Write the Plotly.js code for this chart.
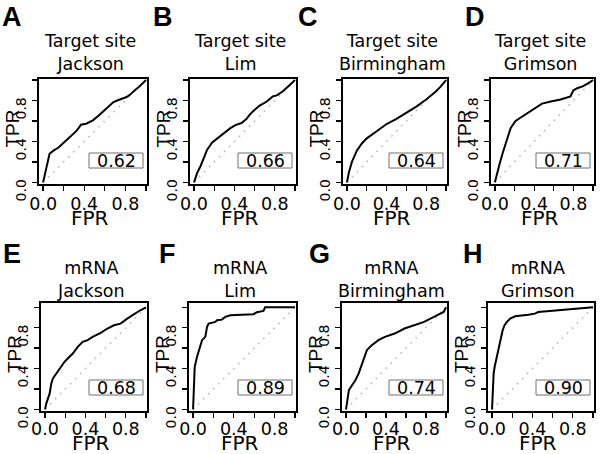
<!DOCTYPE html>
<html>
<head>
<meta charset="utf-8">
<script src="https://cdn.plot.ly/plotly-3.0.1.min.js"></script>
<style>html,body{margin:0;padding:0;background:#fff;}#chart{width:600px;height:454px;}</style>
</head>
<body>
<div id="chart"></div>
<script>
// ---------- data ----------
const panelLetters = ['A','B','C','D','E','F','G','H'];
const features = ['Target site','Target site','Target site','Target site','mRNA','mRNA','mRNA','mRNA'];
const datasets = ['Jackson','Lim','Birmingham','Grimson','Jackson','Lim','Birmingham','Grimson'];
const aucLabels = ['0.62','0.66','0.64','0.71','0.68','0.89','0.74','0.90'];
const tickValues = [0, 0.2, 0.4, 0.6, 0.8, 1.0];
const tickLabels = ['0.0', '', '0.4', '', '0.8', ''];
const chanceLine = [0, 1];

const fprA = [0,0.02,0.04,0.0625,0.1,0.15,0.197,0.25,0.319,0.345,0.368,0.418,0.45,0.484,0.549,0.58,0.615,0.681,0.72,0.747,0.812,0.85,0.878,0.944,1];
const tprA = [0,0.1,0.19,0.28,0.31,0.34,0.384,0.43,0.498,0.53,0.563,0.573,0.59,0.606,0.661,0.69,0.726,0.782,0.8,0.808,0.834,0.86,0.889,0.945,1];
const fprB = [0,0.03,0.065,0.1,0.13,0.18,0.23,0.3,0.36,0.41,0.47,0.52,0.55,0.59,0.65,0.72,0.78,0.82,0.88,0.94,1];
const tprB = [0,0.09,0.16,0.24,0.32,0.39,0.43,0.48,0.53,0.56,0.58,0.62,0.66,0.7,0.75,0.79,0.84,0.85,0.89,0.945,1];
const fprC = [0,0.02,0.05,0.1,0.15,0.2,0.3,0.4,0.5,0.6,0.7,0.8,0.9,0.95,1];
const tprC = [0,0.1,0.2,0.31,0.38,0.43,0.5,0.57,0.62,0.68,0.74,0.81,0.89,0.94,1];
const fprD = [0,0.02,0.05,0.08,0.11,0.16,0.21,0.28,0.34,0.41,0.48,0.57,0.67,0.77,0.8,0.84,0.9,0.97,1];
const tprD = [0,0.09,0.19,0.29,0.38,0.53,0.6,0.645,0.68,0.72,0.77,0.79,0.81,0.84,0.9,0.92,0.94,0.98,1];
const fprE = [0,0.013,0.046,0.062,0.078,0.111,0.144,0.193,0.225,0.275,0.324,0.373,0.422,0.471,0.552,0.618,0.683,0.748,0.814,0.879,0.944,1];
const tprE = [0,0.059,0.156,0.254,0.303,0.352,0.401,0.466,0.498,0.547,0.612,0.661,0.678,0.71,0.749,0.792,0.824,0.84,0.889,0.932,0.971,1];
const fprF = [0,0.007,0.016,0.039,0.065,0.088,0.12,0.137,0.153,0.218,0.235,0.283,0.316,0.365,0.593,0.625,0.691,0.707,1];
const tprF = [0,0.254,0.417,0.515,0.612,0.678,0.71,0.808,0.84,0.857,0.873,0.879,0.906,0.922,0.932,0.951,0.964,1,1];
const fprG = [0,0.013,0.029,0.062,0.095,0.127,0.16,0.193,0.209,0.258,0.324,0.389,0.487,0.585,0.683,0.781,0.879,0.977,1];
const tprG = [0,0.091,0.189,0.238,0.287,0.352,0.45,0.547,0.58,0.629,0.678,0.71,0.743,0.792,0.824,0.857,0.906,0.954,1];
const fprH = [0,0.007,0.016,0.026,0.039,0.059,0.072,0.092,0.105,0.124,0.147,0.18,0.229,0.359,0.425,0.458,0.686,0.817,1];
const tprH = [0,0.189,0.352,0.417,0.482,0.58,0.645,0.71,0.775,0.824,0.857,0.889,0.912,0.928,0.938,0.954,0.971,0.987,1];

const fprAll = [fprA,fprB,fprC,fprD,fprE,fprF,fprG,fprH];
const tprAll = [tprA,tprB,tprC,tprD,tprE,tprF,tprG,tprH];

// ---------- layout geometry (pixels) ----------
const W = 600, H = 454;
const boxes = [
  [39,147,79,184],[190,296,79,184],[343,447,79,184],[491,594,79,184],
  [41,147,303,411],[189,296,303,411],[342,447,303,411],[488,594,303,411]
];
const letterX = [12,163,308,475,12,167,319,473];
const px = v => v / W;
const py = v => 1 - v / H;

const SANS_WIDE = 'DejaVu Sans';
const SANS = 'Liberation Sans, Arial, sans-serif';

const traces = [];
const layout = {
  width: W, height: H,
  margin: {l:0, r:0, t:0, b:0},
  paper_bgcolor: '#fff', plot_bgcolor: '#fff',
  showlegend: false,
  annotations: [], shapes: []
};

for (let i = 0; i < 8; i++) {
  const n = i + 1;
  const xa = 'x' + (n === 1 ? '' : n), ya = 'y' + (n === 1 ? '' : n);
  const [l, r, t, b] = boxes[i];
  const row2 = i >= 4;
  traces.push({
    x: chanceLine, y: chanceLine, xaxis: xa, yaxis: ya, mode: 'lines', hoverinfo: 'skip',
    line: {color: '#b8b8b8', width: 1.6, dash: '1.6px,5.5px'}
  });
  traces.push({
    x: fprAll[i], y: tprAll[i], xaxis: xa, yaxis: ya, mode: 'lines', hoverinfo: 'skip',
    line: {color: '#000', width: 2}
  });
  const axCommon = {
    showline: true, mirror: true, linecolor: '#000', linewidth: 2,
    showgrid: false, zeroline: false,
    ticks: 'outside', ticklen: 5, tickwidth: 1.3, tickcolor: '#000',
    tickmode: 'array', tickvals: tickValues, ticktext: tickLabels
  };
  layout['xaxis' + (n === 1 ? '' : n)] = Object.assign({}, axCommon, {
    domain: [px(l), px(r)], anchor: ya, range: [-0.04, 1.01],
    tickfont: {family: SANS_WIDE, size: 17.5, color: '#000'}, tickangle: 0,
    ticklabelstandoff: row2 ? -4 : -2
  });
  layout['yaxis' + (n === 1 ? '' : n)] = Object.assign({}, axCommon, {
    domain: [py(b), py(t)], anchor: xa, range: row2 ? [-0.016, 1.042] : [-0.016, 1.01],
    tickfont: {family: SANS_WIDE, size: 14, color: '#000'}, tickangle: -90, ticklabelshift: 10
  });
  const cx = (l + r) / 2;
  // panel letter
  layout.annotations.push(row2 ? {
    xref:'paper', yref:'paper', x: px(letterX[i]), y: py(254),
    xanchor:'center', yanchor:'middle', showarrow:false, text: panelLetters[i],
    font:{family: SANS, size: 27, color:'#000', weight: 'bold'}
  } : {
    xref:'paper', yref:'paper', x: px(letterX[i]), y: 1,
    xanchor:'center', yanchor:'top', showarrow:false, text: panelLetters[i],
    font:{family: SANS, size: 27, color:'#000', weight: 'bold'}
  });
  // panel title
  layout.annotations.push({
    xref:'paper', yref:'paper', x: px(cx - 3), y: py(row2 ? 279.5 : 52),
    xanchor:'center', yanchor:'middle', showarrow:false,
    text: features[i] + '<br>' + datasets[i],
    font:{family: SANS_WIDE, size: 17.5, color:'#000'}
  });
  // axis titles
  layout.annotations.push({
    xref:'paper', yref:'paper', x: px(cx - 3), y: py(row2 ? 443 : 218),
    xanchor:'center', yanchor:'middle', showarrow:false, text: 'FPR',
    font:{family: SANS_WIDE, size: 20, color:'#000'}
  });
  layout.annotations.push({
    xref:'paper', yref:'paper', x: px(l - 27), y: py((t + b) / 2 - 3),
    xanchor:'center', yanchor:'middle', showarrow:false, text: 'TPR', textangle: -90,
    font:{family: SANS, size: 19, color:'#000'}
  });
  // AUC box
  const rr = r - 4, rl = rr - 54, rb = b - 16, rt = rb - 15;
  layout.shapes.push({
    type:'rect', xref:'paper', yref:'paper', x0: px(rl), x1: px(rr), y0: py(rb), y1: py(rt),
    line:{color:'#707070', width:1}, fillcolor:'rgba(0,0,0,0)'
  });
  layout.annotations.push({
    xref:'paper', yref:'paper', x: px((rl + rr) / 2), y: py((rt + rb) / 2),
    xanchor:'center', yanchor:'middle', showarrow:false, text: aucLabels[i],
    font:{family: SANS_WIDE, size: 17.5, color:'#000'}
  });
}

Plotly.newPlot('chart', traces, layout, {staticPlot: true, displayModeBar: false});
</script>
</body>
</html>
